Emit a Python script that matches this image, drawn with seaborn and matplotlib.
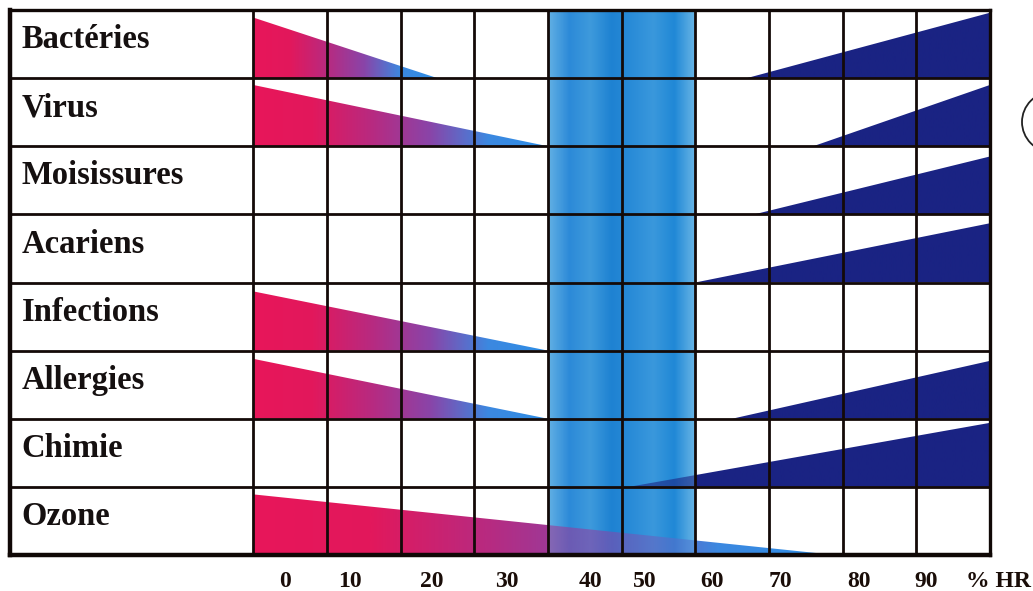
import numpy as np
import pandas as pd
import seaborn as sns
import matplotlib.pyplot as plt
from matplotlib.patches import Polygon, Ellipse

# rows of the chart (top to bottom)
risks = ["Bactéries", "Virus", "Moisissures", "Acariens",
         "Infections", "Allergies", "Chimie", "Ozone"]
# dry side: humidity (%HR) where the risk fades out, nan = no wedge
low_end = [25, 40, np.nan, np.nan, 40, 40, np.nan, 79]
low_height = [0.89, 0.9, np.nan, np.nan, 0.87, 0.88, np.nan, 0.89]
# wet side: humidity where the risk starts, rising to 100
high_start = [67, 76, 68, 60, np.nan, 65, 51, np.nan]
high_height = [0.96, 0.9, 0.85, 0.87, np.nan, 0.85, 0.94, np.nan]
optimal = (40, 60)

tick_labels = ["0", "10", "20", "30", "40", "50", "60", "70", "80", "90", "% HR"]
tick_pos = [4.3, 13.2, 24.3, 34.4, 45.8, 53.2, 62.3, 71.5, 82.2, 91.3, 101.2]

df = pd.DataFrame({"risk": risks, "low_end": low_end, "low_h": low_height,
                   "high_start": high_start, "high_h": high_height})

sns.set_theme(style="white")
plt.rcParams["font.family"] = ["Liberation Serif", "DejaVu Serif"]

dry_cmap = sns.blend_palette(["#e8165a", "#e2185c", "#b82a80", "#8a44a8",
                              "#3c88e0", "#2e8ee6"], n_colors=256, as_cmap=True)
band_cmap = sns.blend_palette(["#62b0e4", "#2c8ad8", "#3e9adc", "#1e82d2",
                               "#2a8cd8", "#3a98dc", "#2088d6", "#6ab6e6"],
                              n_colors=256, as_cmap=True)
navy = "#1a2383"

fig = plt.figure(figsize=(10.33, 5.91), dpi=100)
ax = fig.add_axes([10 / 1033, 36 / 591, 980 / 1033, 545 / 591])
xmin = -33.0
nrows = len(risks)


def gradient_wedge(poly_pts, x0, x1, colors_fn, zorder=2):
    n = 400
    xs = np.linspace(x0, x1, n)
    rgba = np.array([colors_fn(x) for x in xs])
    inband = (xs >= optimal[0]) & (xs <= optimal[1])
    rgba[inband, 3] = 0.6
    img = ax.imshow(rgba[np.newaxis, :, :], extent=(x0, x1, nrows, 0),
                    aspect="auto", interpolation="bilinear", zorder=zorder)
    poly = Polygon(poly_pts, closed=True, transform=ax.transData,
                   facecolor="none", edgecolor="none")
    ax.add_patch(poly)
    img.set_clip_path(poly)


# optimal humidity band
band = band_cmap(np.linspace(0, 1, 300))
ax.imshow(band[np.newaxis, :, :], extent=(optimal[0], optimal[1], nrows, 0),
          aspect="auto", interpolation="bilinear", zorder=1)

navy_rgba = np.array(plt.matplotlib.colors.to_rgba(navy))
for i, row in df.iterrows():
    base = i + 1
    if not np.isnan(row.low_end):
        end = row.low_end
        pts = [(0, base), (0, base - row.low_h), (end, base)]
        gradient_wedge(pts, 0, end, lambda x, e=end: np.array(dry_cmap(x / e)))
    if not np.isnan(row.high_start):
        st = row.high_start
        pts = [(st, base), (100, base - row.high_h), (100, base)]
        gradient_wedge(pts, st, 100, lambda x: navy_rgba.copy())
    ax.text(-31.4, i + 0.56, row.risk, ha="left", va="baseline",
            fontsize=23.5, fontweight="bold", color="#151010", zorder=5)

# grid
for x in range(0, 101, 10):
    ax.axvline(x, color="#140a08", lw=2.0, zorder=4)
for y in range(1, nrows):
    ax.axhline(y, color="#140a08", lw=2.0, zorder=4)

for side in ["left", "bottom"]:
    ax.spines[side].set_linewidth(3.2)
for side in ["top", "right"]:
    ax.spines[side].set_linewidth(2.4)
for sp in ax.spines.values():
    sp.set_color("#100806")
    sp.set_visible(True)
    sp.set_zorder(6)

ax.set_yticks([])
ax.set_xticks([])
ax.set_xlabel("")
ax.set_xlim(xmin, 100)
ax.set_ylim(nrows, 0)

# humidity labels under the grid
for pos, lab in zip(tick_pos, tick_labels):
    ax.text(pos, -0.058, lab, transform=ax.get_xaxis_transform(),
            ha="center", va="baseline", fontsize=17, fontweight="bold",
            color="#1a0d08", clip_on=False)

# partial circle at the right edge
fig.add_artist(Ellipse((1052 / 1033, 1 - 122 / 591), 60 / 1033, 60 / 591,
                       transform=fig.transFigure, facecolor="none",
                       edgecolor="#222222", lw=1.3))

fig.savefig("out.png", dpi=100, facecolor="white")
